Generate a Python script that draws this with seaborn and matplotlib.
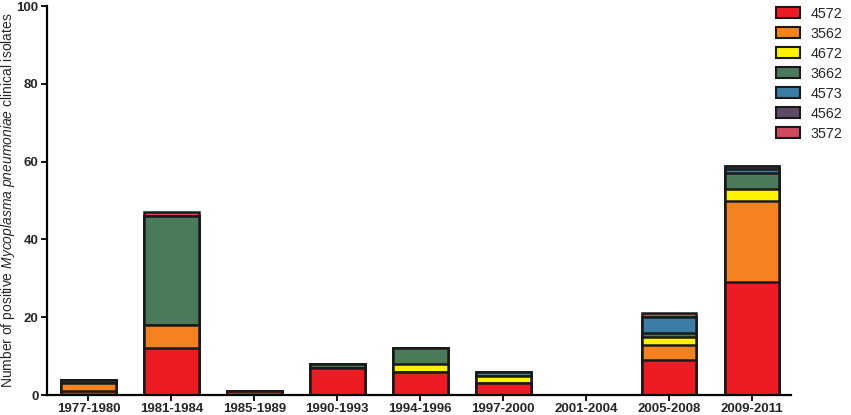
import pandas as pd
import numpy as np
import matplotlib
matplotlib.use('Agg')
import matplotlib.pyplot as plt
from matplotlib.patches import Patch
import seaborn as sns

sns.set_theme(style="white")
plt.rcParams['font.family'] = ['Liberation Sans', 'DejaVu Sans']
plt.rcParams['mathtext.fontset'] = 'custom'
plt.rcParams['mathtext.it'] = 'Liberation Sans:italic'
plt.rcParams['mathtext.rm'] = 'Liberation Sans'

#Periods and genotype counts
periods = ['1977-1980', '1981-1984', '1985-1989', '1990-1993', '1994-1996',
           '1997-2000', '2001-2004', '2005-2008', '2009-2011']
genotypes = ['4572', '3562', '4672', '3662', '4573', '4562', '3572']
g4572 = [1, 12, 1, 7, 6, 3, 0, 9, 29]
g3562 = [2, 6, 0, 0, 0, 0, 0, 4, 21]
g4672 = [0, 0, 0, 0, 2, 2, 0, 2, 3]
g3662 = [1, 28, 0, 1, 4, 0, 0, 1, 4]
g4573 = [0, 0, 0, 0, 0, 1, 0, 4, 1]
g4562 = [0, 0, 0, 0, 0, 0, 0, 0, 1]
g3572 = [0, 1, 0, 0, 0, 0, 0, 1, 0]
colors = ['#ED1C24', '#F58220', '#FFF200', '#4A7A5A', '#3C7DA6', '#5E4A66', '#D04A5E']

counts = pd.DataFrame({'4572': g4572, '3562': g3562, '4672': g4672, '3662': g3662,
                       '4573': g4573, '4562': g4562, '3572': g3572}, index=periods)
cum = counts[genotypes].cumsum(axis=1)

fig = plt.figure(figsize=(8.51, 4.15), dpi=100)
ax = fig.add_axes([0.0552, 0.048, 0.8743, 0.9375])

#Stacked bars: draw cumulative totals from the top genotype down
for g, c in reversed(list(zip(genotypes, colors))):
    df = pd.DataFrame({'period': periods, 'n': cum[g].values})
    sns.barplot(data=df, x='period', y='n', color=c, saturation=1, width=0.66,
                edgecolor='#1a1a1a', linewidth=1.8, ax=ax)

ax.set_xlim(-0.5, 8.47)
ax.set_ylim(0, 100)
ax.set_yticks([0, 20, 40, 60, 80, 100])
ax.set_xlabel('')
ax.set_ylabel(r'Number of positive $\mathit{Mycoplasma\ pneumoniae}$ clinical isolates',
              fontsize=10)
ax.yaxis.set_label_coords(-0.0405, 0.5)
ax.tick_params(axis='both', which='both', direction='out', length=4, width=1.3,
               labelsize=9.5, color='black', bottom=True, left=True, pad=2)
for lab in ax.get_xticklabels() + ax.get_yticklabels():
    lab.set_fontweight('bold')
sns.despine(ax=ax)
for s in ['left', 'bottom']:
    ax.spines[s].set_linewidth(1.6)
    ax.spines[s].set_color('black')

handles = [Patch(facecolor=c, edgecolor='#1a1a1a', linewidth=1.5, label=g)
           for g, c in zip(genotypes, colors)]
fig.legend(handles=handles, loc='upper right', bbox_to_anchor=(1.0, 1.005),
           frameon=False, fontsize=10.3, handlelength=1.7, handleheight=0.8,
           labelspacing=0.42, handletextpad=0.7, borderaxespad=0.2)

plt.savefig('out.png', dpi=100)
